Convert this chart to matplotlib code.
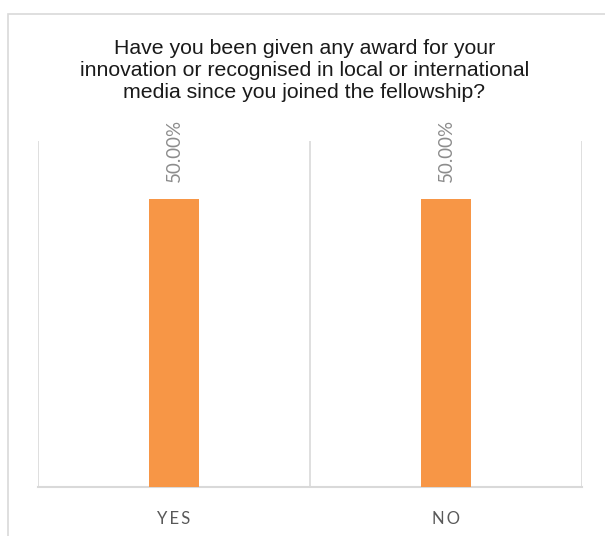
import matplotlib
matplotlib.use("Agg")
import matplotlib.pyplot as plt
from matplotlib.patches import Rectangle

# data
categories = ["YES", "NO"]
shares = [0.50, 0.50]
value_labels = ["50.00%", "50.00%"]
title = ("Have you been given any award for your\n"
         "innovation or recognised in local or international\n"
         "media since you joined the fellowship?")

grid_col = "#d9d9d9"
bar_col = "#f79646"

fig = plt.figure(figsize=(6.05, 5.36), dpi=100)

# outer chart border
fig.patches.append(Rectangle((8 / 605, -0.05), 1.1, (536 - 14) / 536 + 0.05,
                             transform=fig.transFigure, fill=False,
                             edgecolor=grid_col, linewidth=1.2))

ax = fig.add_axes([38 / 605, 49 / 536, 544 / 605, 346 / 536])
x = list(range(len(categories)))
ax.bar(x, shares, width=0.184, color=bar_col, zorder=3)
ax.set_xlim(-0.5, len(categories) - 0.5)
ax.set_ylim(0, 0.6)

# vertical category separators
for b in [i - 0.5 for i in range(len(categories) + 1)]:
    ax.axvline(b, color=grid_col, linewidth=1.2, zorder=1)

for s in ["top", "left", "right"]:
    ax.spines[s].set_visible(False)
ax.spines["bottom"].set_color(grid_col)
ax.spines["bottom"].set_linewidth(1.5)
ax.set_yticks([])
ax.set_xticks(x)
# Excel-style spaced letters
spaced = ["\u2009".join(c) for c in categories]
ax.set_xticklabels(spaced, fontsize=12, color="#595959",
                   family=["Lato", "DejaVu Sans"])
ax.tick_params(axis="x", length=0, pad=17)

for xi, v, lab in zip(x, shares, value_labels):
    ax.annotate(lab, (xi, v), xytext=(0, 12), textcoords="offset points",
                rotation=90, ha="center", va="bottom", fontsize=13.5,
                color="#8c8c8c", family="Lato")

fig.text(0.503, 1 - 70 / 536, title, ha="center", va="center",
         fontsize=15.3, color="#1a1a1a", family="Liberation Sans",
         linespacing=1.2)

fig.savefig("out.png", dpi=100)
